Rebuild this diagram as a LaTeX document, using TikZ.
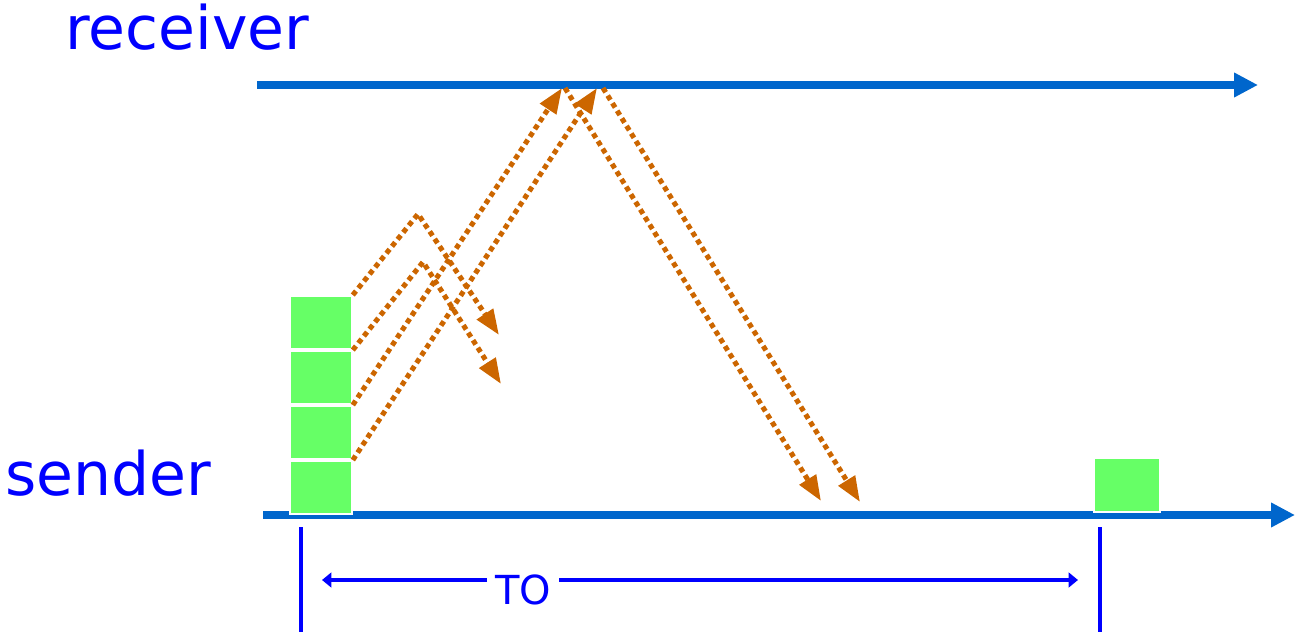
\documentclass[tikz,border=0pt]{standalone}
\usepackage{fontspec}
\setmainfont{DejaVu Sans}
\usetikzlibrary{arrows.meta}
\definecolor{lineblue}{HTML}{0066CC}
\definecolor{txtblue}{HTML}{0000FF}
\definecolor{pktorange}{HTML}{CC6600}
\definecolor{pktgreen}{HTML}{66FF66}

\begin{document}
\begin{tikzpicture}[x=0.75pt,y=-0.75pt,
    timeline/.style={draw=lineblue,line width=6pt,-{Triangle[length=18pt,width=17.5pt]}},
    pkt/.style={fill=pktgreen,draw=white,line width=1.2pt,inner sep=0pt,minimum width=46.5pt,minimum height=40pt},
    msg/.style={draw=pktorange,line width=3.8pt,dash pattern=on 3.8pt off 2.9pt,-{Triangle[length=19pt,width=14pt]}},
    hosttext/.style={text=txtblue,font=\fontsize{45}{50}\selectfont,inner sep=0pt,anchor=base west},
    tick/.style={draw=txtblue,line width=3.25pt},
    span/.style={draw=txtblue,line width=3.2pt,-{Triangle[length=7pt,width=11pt]}}]
  \useasboundingbox (0,0) rectangle (1297,638);

  % time lines
  \coordinate (rcvS) at (257,85);
  \coordinate (rcvE) at (1258,85);
  \coordinate (sndS) at (263,515);
  \coordinate (sndE) at (1295,515);
  \draw[timeline] (rcvS) -- (rcvE);
  \draw[timeline] (sndS) -- (sndE);

  \node[hosttext] (rcv) at (65,50) {receiver};
  \node[hosttext] (snd) at (5,495) {sender};

  % packets in the window
  \node[pkt] (b1) at (321,322.5) {};
  \node[pkt] (b2) at (321,377.5) {};
  \node[pkt] (b3) at (321,432.5) {};
  \node[pkt] (b4) at (321,487.5) {};
  \node[pkt,minimum width=49.5pt,minimum height=40.5pt] (b5) at (1127,485) {};

  % turning points and ends
  \coordinate (k1) at (418,214);
  \coordinate (k2) at (423,262);
  \coordinate (a1) at (499,335);
  \coordinate (a2) at (501,384);
  \coordinate (r1) at (562,88);
  \coordinate (r2) at (597,88);
  \coordinate (r3) at (565,88);
  \coordinate (r4) at (603,88);
  \coordinate (s1) at (821,501);
  \coordinate (s2) at (860,502);

  \draw[msg] (b1.north east) -- (k1) -- (a1);
  \draw[msg] (b2.north east) -- (k2) -- (a2);
  \draw[msg] (b3.north east) -- (r1);
  \draw[msg] (b4.north east) -- (r2);
  \draw[msg] (r3) -- (s1);
  \draw[msg] (r4) -- (s2);

  % timeout interval
  \coordinate (t1a) at (301,527);
  \coordinate (t1b) at (301,632);
  \coordinate (t2a) at (1100,527);
  \coordinate (t2b) at (1100,632);
  \draw[tick] (t1a) -- (t1b);
  \draw[tick] (t2a) -- (t2b);

  \node[text=txtblue,font=\fontsize{30}{34}\selectfont,inner sep=0pt] (to) at (523,590) {TO};
  \coordinate (gapL) at (487,580);
  \coordinate (gapR) at (559,580);
  \coordinate (toL) at (322,580);
  \coordinate (toR) at (1078,580);
  \draw[span] (gapL) -- (toL);
  \draw[span] (gapR) -- (toR);
\end{tikzpicture}
\end{document}
